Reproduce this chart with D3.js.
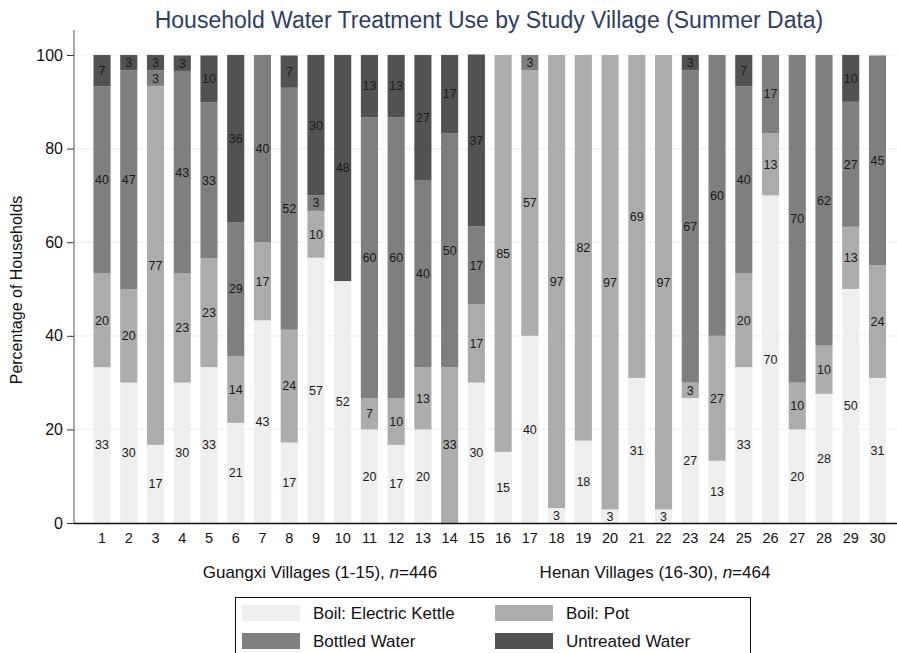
<!DOCTYPE html>
<html><head><meta charset="utf-8">
<script src="https://cdn.jsdelivr.net/npm/d3@7"></script>
<style>body{margin:0;background:#fff}svg{display:block;font-family:"Liberation Sans",Arial,Helvetica,sans-serif}</style>
</head><body><svg id="c" width="897" height="653"></svg>
<script>
const villages = d3.range(1, 31).map(String);
const seriesNames = ["Boil: Electric Kettle", "Boil: Pot", "Bottled Water", "Untreated Water"];
const kettle =    [33.3,30,16.7,30,33.3,21.4,43.3,17.2,56.7,51.7,20,16.7,20,0,30,
                   15.2,40,3.2,17.6,2.9,31.0,2.9,26.7,13.3,33.3,70,20,27.6,50,31.0];
const pot =       [20,20,76.7,23.3,23.3,14.3,16.7,24.1,10,0,6.7,10,13.3,33.3,16.7,
                   84.8,56.7,96.8,82.4,97.1,69.0,97.1,3.3,26.7,20,13.3,10,10.3,13.3,24.1];
const bottled =   [40,46.7,3.3,43.3,33.3,28.6,40,51.7,3.3,0,60,60,40,50,16.7,
                   0,3.3,0,0,0,0,0,66.7,60,40,16.7,70,62.1,26.7,44.8];
const untreated = [6.7,3.3,3.3,3.3,10,35.7,0,6.9,30,48.3,13.3,13.3,26.7,16.7,36.7,
                   0,0,0,0,0,0,0,3.3,0,6.7,0,0,0,10,0];
const yTicks = [0, 20, 40, 60, 80, 100];
const colors = ["#eeeeee", "#acacac", "#7f7f7f", "#525252"];

const rows = villages.map((v, i) => ({village: v, s0: kettle[i], s1: pot[i], s2: bottled[i], s3: untreated[i]}));
const stack = d3.stack().keys(["s0","s1","s2","s3"])(rows);

const svg = d3.select("#c");
const y = d3.scaleLinear().domain([0, 100]).range([523, 55]);
const x = d3.scaleBand().domain(villages).range([80.1, 899.4]).paddingInner(0.36).paddingOuter(0.5);

// gridlines
svg.append("g").selectAll("line").data(yTicks.filter(d => d > 0)).join("line")
  .attr("x1", 74).attr("x2", 897).attr("y1", d => y(d)).attr("y2", d => y(d))
  .attr("stroke", "#eaf2f3").attr("stroke-width", 1.2);

// bars
const g = svg.append("g");
stack.forEach((layer, li) => {
  g.append("g").selectAll("rect").data(layer).join("rect")
    .attr("x", d => x(d.data.village)).attr("width", x.bandwidth())
    .attr("y", d => y(d[1])).attr("height", d => y(d[0]) - y(d[1]))
    .attr("fill", colors[li]);
  g.append("g").selectAll("text").data(layer.filter(d => d[1] - d[0] > 0)).join("text")
    .attr("x", d => x(d.data.village) + x.bandwidth() / 2)
    .attr("y", d => y((d[0] + d[1]) / 2))
    .attr("dy", "0.35em").attr("text-anchor", "middle")
    .attr("font-size", 12.5).attr("fill", "#1a1a1a")
    .text(d => Math.round(d[1] - d[0]));
});

// y axis
const ya = svg.append("g").attr("transform", "translate(74,0)")
  .call(d3.axisLeft(y).tickValues(yTicks).tickSize(7).tickPadding(4));
ya.select(".domain").remove();
ya.selectAll("line").attr("stroke", "#333");
ya.selectAll("text").attr("font-size", 16).attr("fill", "#111").attr("font-family", "Liberation Sans, Arial, sans-serif");
svg.append("line").attr("x1", 74).attr("x2", 74).attr("y1", 523).attr("y2", 30).attr("stroke", "#555").attr("stroke-width", 1);

// x axis
const xa = svg.append("g").attr("transform", "translate(0,523)")
  .call(d3.axisBottom(x).tickSize(0).tickPadding(10));
xa.select(".domain").remove();
xa.selectAll("text").attr("font-size", 14.5).attr("fill", "#111").attr("font-family", "Liberation Sans, Arial, sans-serif");
svg.append("line").attr("x1", 74).attr("x2", 897).attr("y1", 523.5).attr("y2", 523.5).attr("stroke", "#111").attr("stroke-width", 1.3);

// title
svg.append("text").attr("x", 489).attr("y", 28).attr("text-anchor", "middle")
  .attr("font-size", 23).attr("fill", "#2c3e66")
  .text("Household Water Treatment Use by Study Village (Summer Data)");

// y title
svg.append("text").attr("transform", "translate(22,290) rotate(-90)").attr("text-anchor", "middle")
  .attr("font-size", 16).attr("fill", "#111").text("Percentage of Households");

// group labels
const gl1 = svg.append("text").attr("x", 320).attr("y", 578).attr("text-anchor", "middle").attr("font-size", 17).attr("fill", "#111");
gl1.append("tspan").text("Guangxi Villages (1-15), ");
gl1.append("tspan").attr("font-style", "italic").text("n");
gl1.append("tspan").text("=446");
const gl2 = svg.append("text").attr("x", 655).attr("y", 578).attr("text-anchor", "middle").attr("font-size", 17).attr("fill", "#111");
gl2.append("tspan").text("Henan Villages (16-30), ");
gl2.append("tspan").attr("font-style", "italic").text("n");
gl2.append("tspan").text("=464");

// legend
svg.append("rect").attr("x", 235.5).attr("y", 597.5).attr("width", 515).attr("height", 70)
  .attr("fill", "#fff").attr("stroke", "#111").attr("stroke-width", 1);
const legPos = [[242, 605], [495, 605], [242, 633], [495, 633]];
seriesNames.forEach((n, i) => {
  const [lx, ly] = legPos[i];
  svg.append("rect").attr("x", lx).attr("y", ly).attr("width", 58).attr("height", 16).attr("fill", colors[i]);
  svg.append("text").attr("x", lx + 71).attr("y", ly + 8).attr("dy", "0.35em")
    .attr("font-size", 17).attr("fill", "#111").text(n);
});
</script></body></html>
